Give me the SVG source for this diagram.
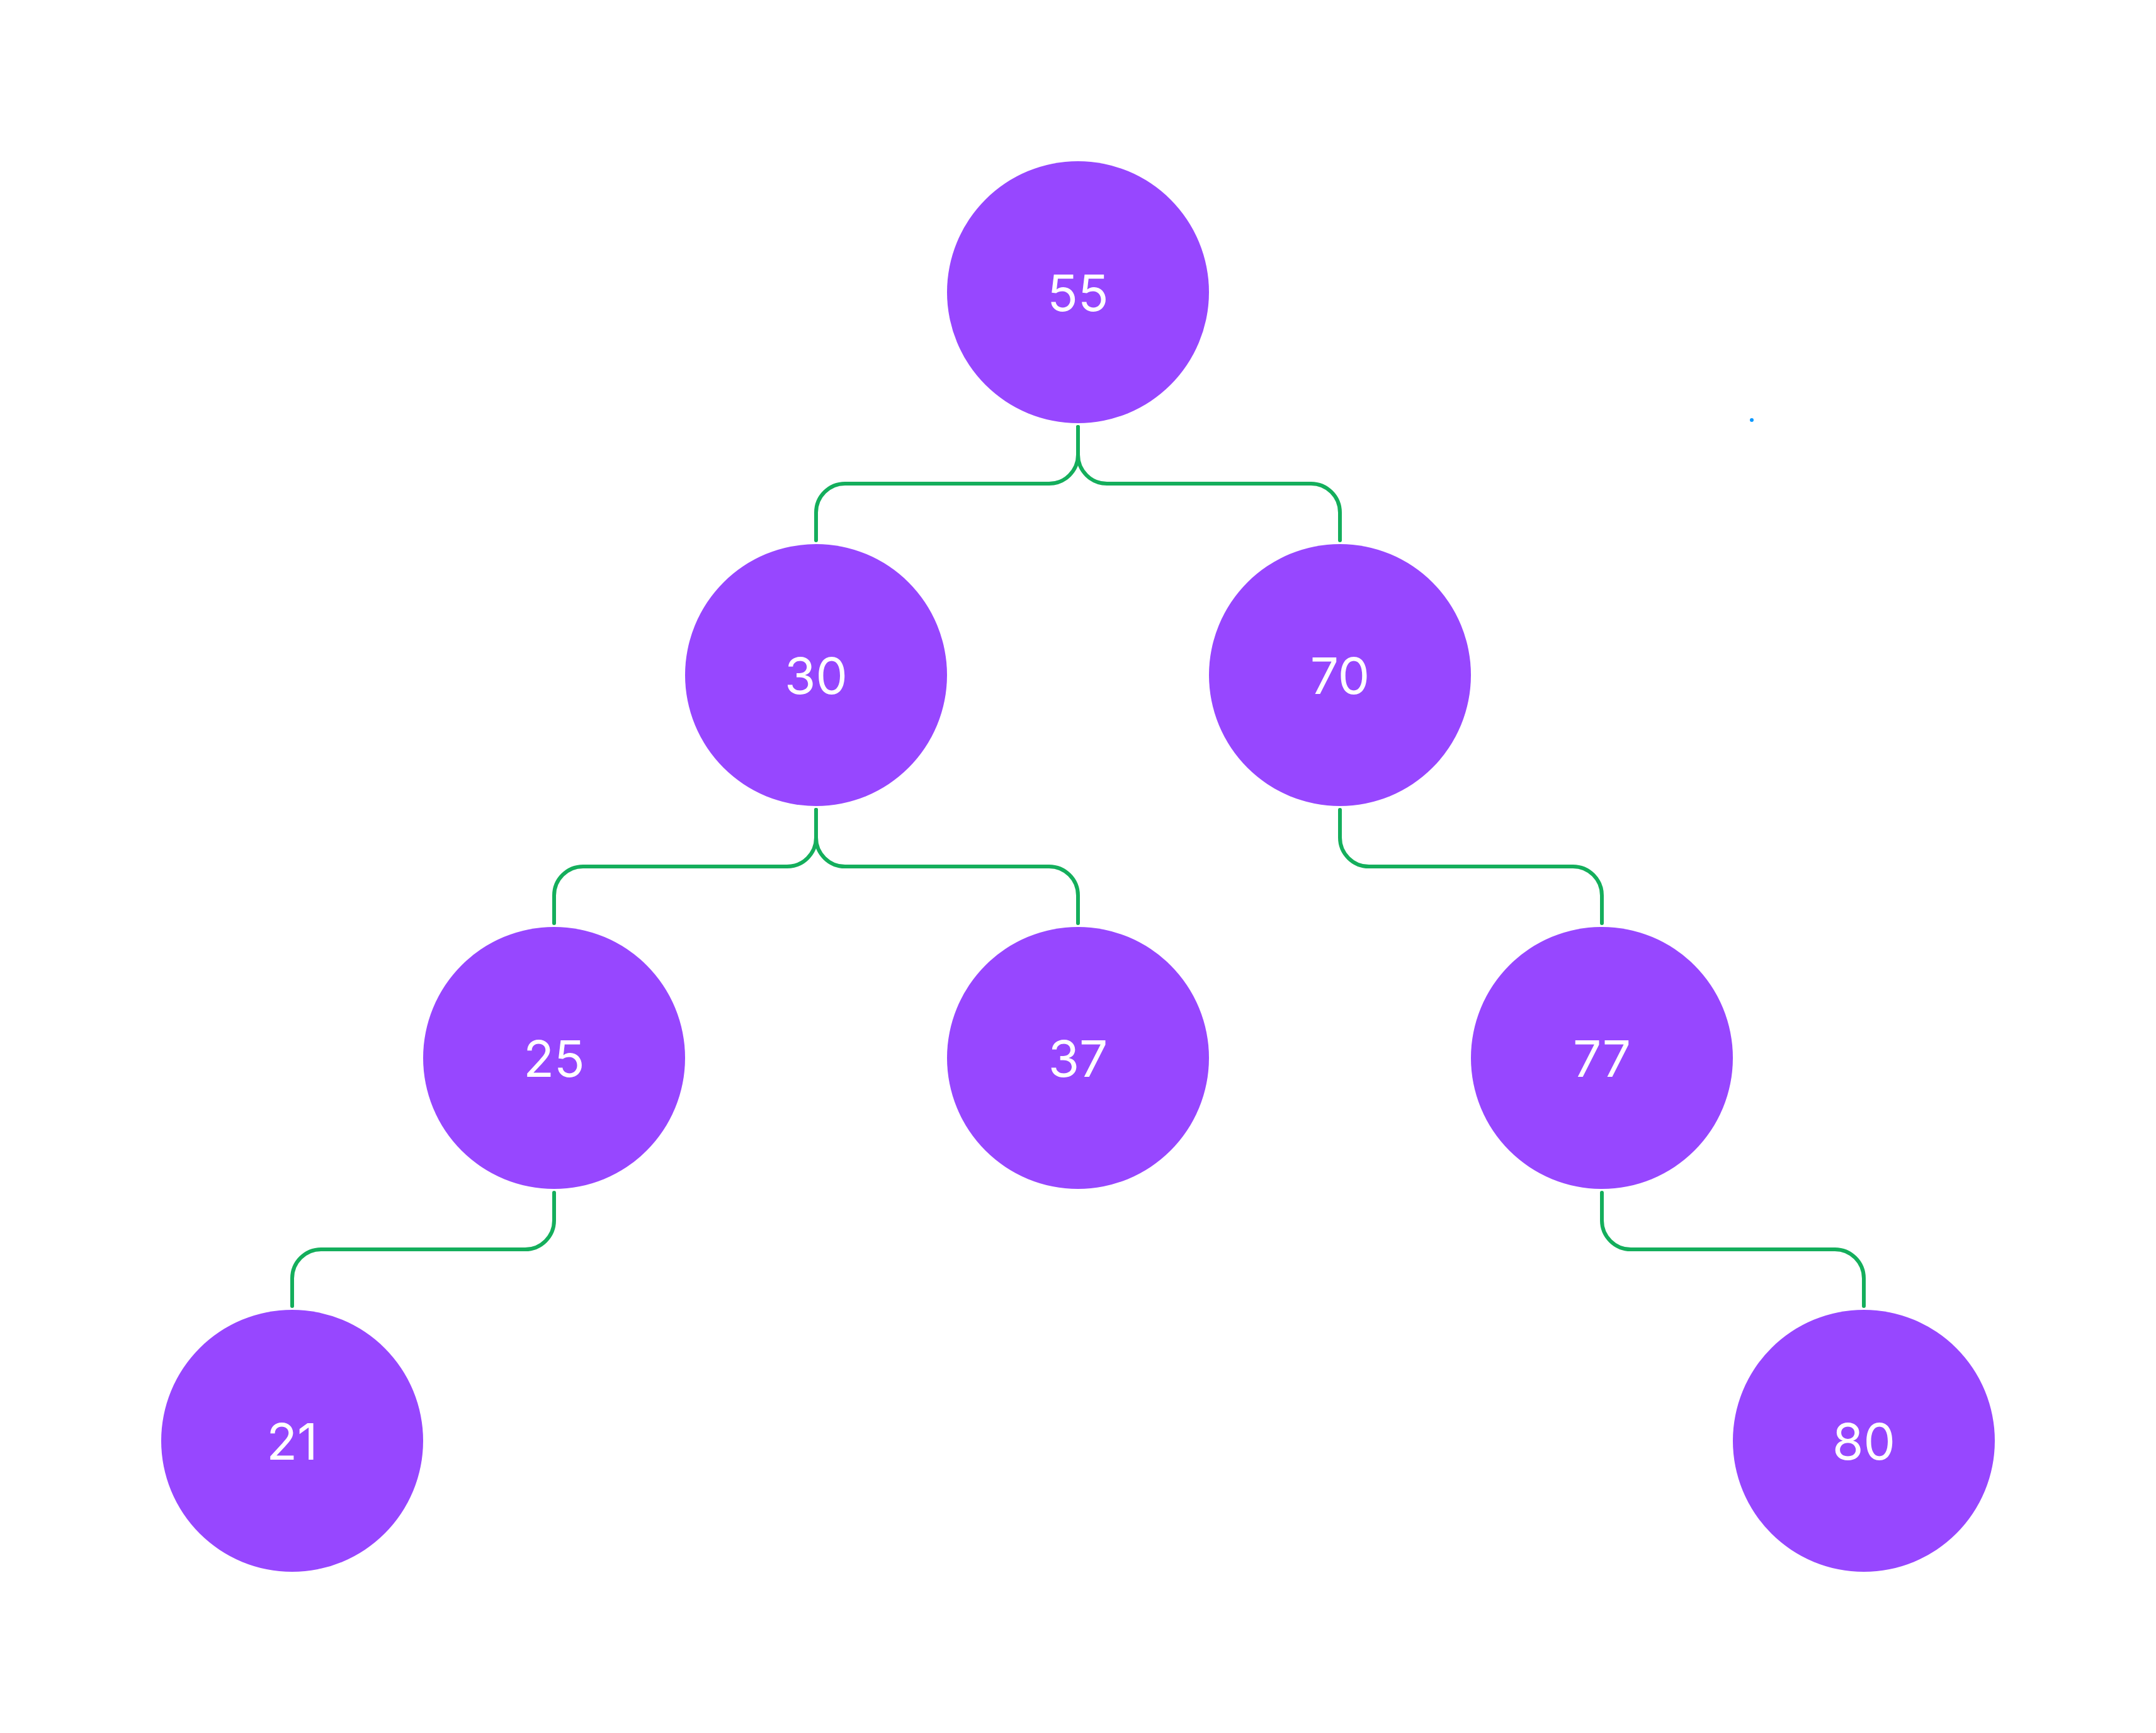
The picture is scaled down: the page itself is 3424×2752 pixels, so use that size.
<svg xmlns="http://www.w3.org/2000/svg" width="3424" height="2752" viewBox="0 0 3424 2752">
<style>
.node circle{fill:#9747FF}
.node text{fill:#FFFFFF;font-family:Inter,"Noto Sans","Liberation Sans",sans-serif;font-size:80px;text-anchor:middle}
.edge{fill:none;stroke:#14AE5C;stroke-width:6;stroke-linecap:round;stroke-linejoin:round}
</style>
<rect width="3424" height="2752" fill="#FFFFFF"/>
<g id="connectors">
<path class="edge" d="M1712,678 V722 A46,46 0 0 1 1666,768 H1342 A46,46 0 0 0 1296,814 V858"/>
<path class="edge" d="M1712,678 V722 A46,46 0 0 0 1758,768 H2082 A46,46 0 0 1 2128,814 V858"/>
<path class="edge" d="M1296,1286 V1330 A46,46 0 0 1 1250,1376 H926 A46,46 0 0 0 880,1422 V1466"/>
<path class="edge" d="M1296,1286 V1330 A46,46 0 0 0 1342,1376 H1666 A46,46 0 0 1 1712,1422 V1466"/>
<path class="edge" d="M2128,1286 V1330 A46,46 0 0 0 2174,1376 H2498 A46,46 0 0 1 2544,1422 V1466"/>
<path class="edge" d="M880,1894 V1938 A46,46 0 0 1 834,1984 H510 A46,46 0 0 0 464,2030 V2074"/>
<path class="edge" d="M2544,1894 V1938 A46,46 0 0 0 2590,1984 H2914 A46,46 0 0 1 2960,2030 V2074"/>
</g>
<g id="node-55" class="node"><circle cx="1712" cy="464" r="208"/><text x="1712" y="494">55</text></g>
<g id="node-30" class="node"><circle cx="1296" cy="1072" r="208"/><text x="1296" y="1102">30</text></g>
<g id="node-70" class="node"><circle cx="2128" cy="1072" r="208"/><text x="2128" y="1102">70</text></g>
<g id="node-25" class="node"><circle cx="880" cy="1680" r="208"/><text x="880" y="1710">25</text></g>
<g id="node-37" class="node"><circle cx="1712" cy="1680" r="208"/><text x="1712" y="1710">37</text></g>
<g id="node-77" class="node"><circle cx="2544" cy="1680" r="208"/><text x="2544" y="1710">77</text></g>
<g id="node-21" class="node"><circle cx="464" cy="2288" r="208"/><text x="464" y="2318">21</text></g>
<g id="node-80" class="node"><circle cx="2960" cy="2288" r="208"/><text x="2960" y="2318">80</text></g>
<circle cx="2782" cy="667" r="3" fill="#0D99FF"/>
</svg>
